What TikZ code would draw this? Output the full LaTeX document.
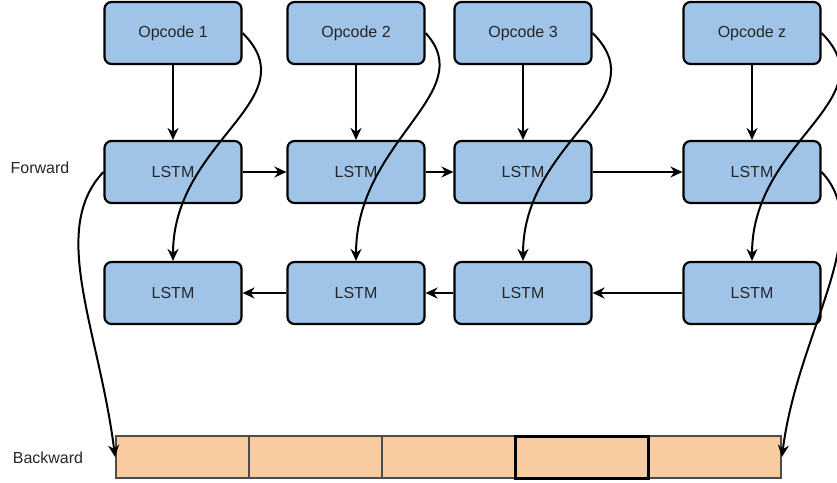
\documentclass[tikz,border=0pt]{standalone}
\usepackage{fontspec}
\setmainfont{Liberation Sans}
\usepackage{tikz}
\usetikzlibrary{arrows.meta}
\definecolor{lstmblue}{RGB}{159,196,232}
\definecolor{cellorange}{RGB}{248,203,160}

\begin{document}
\begin{tikzpicture}[x=1pt, y=-1pt,
  box/.style = {draw, line width=2.2pt, rounded corners=7pt, fill=lstmblue, minimum width=137pt, minimum height=62pt, font=\fontsize{16}{19}\selectfont, text=black!85},
  cell/.style = {draw=black!70, line width=1.8pt, fill=cellorange, minimum width=133pt, minimum height=42pt},
  arr/.style = {line width=2pt, -{Stealth[length=12pt, width=11pt, inset=4pt]}},
  lbl/.style = {font=\fontsize{16}{19}\selectfont, text=black!85}]

\useasboundingbox (0,0) rectangle (837,482);

%% opcodes
\node[box] (op1) at (173, 33) {Opcode 1};
\node[box] (op2) at (356, 33) {Opcode 2};
\node[box] (op3) at (523, 33) {Opcode 3};
\node[box] (opz) at (752, 33) {Opcode z};

%% forward lstm
\node[box] (fw1) at (173, 172) {LSTM};
\node[box] (fw2) at (356, 172) {LSTM};
\node[box] (fw3) at (523, 172) {LSTM};
\node[box] (fwz) at (752, 172) {LSTM};

%% backward lstm
\node[box] (bw1) at (173, 293) {LSTM};
\node[box] (bw2) at (356, 293) {LSTM};
\node[box] (bw3) at (523, 293) {LSTM};
\node[box] (bwz) at (752, 293) {LSTM};

%% output cells
\node[cell] (c1) at (182.5, 457) {};
\node[cell] (c2) at (315.5, 457) {};
\node[cell] (c3) at (448.5, 457) {};
\node[cell] (c5) at (714.5, 457) {};
\node[cell, draw=black, line width=3pt] (c4) at (581.5, 457) {};

%% side labels
\node[lbl] (fwd) at (40, 168) {Forward};
\node[lbl] (bwd) at (48, 458) {Backward};

%%% edges
\draw[arr] (op1) -- (fw1);
\draw[arr] (op2) -- (fw2);
\draw[arr] (op3) -- (fw3);
\draw[arr] (opz) -- (fwz);

\draw[arr] (fw1) -- (fw2);
\draw[arr] (fw2) -- (fw3);
\draw[arr] (fw3) -- (fwz);

\draw[arr] (bwz) -- (bw3);
\draw[arr] (bw3) -- (bw2);
\draw[arr] (bw2) -- (bw1);

%%% skip curves
\draw[arr] (op1.east) .. controls +(67,67) and +(0,-121) .. (bw1.north);
\draw[arr] (op2.east) .. controls +(55,60) and +(0,-121) .. (bw2.north);
\draw[arr] (op3.east) .. controls +(67,67) and +(0,-121) .. (bw3.north);
\draw[arr] (opz.east) .. controls +(67,67) and +(0,-121) .. (bwz.north);

\draw[arr] (fw1.west) .. controls +(-55,58) and +(-16,-127) .. (c1.west);
\draw[arr] (fwz.east) .. controls +(55,58) and +(16,-127) .. (c5.east);

\end{tikzpicture}
\end{document}
